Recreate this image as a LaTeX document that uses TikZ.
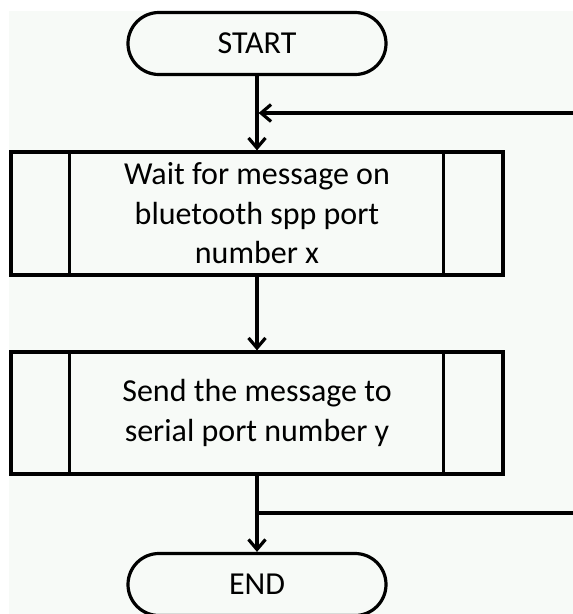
\documentclass[tikz,border=0pt]{standalone}
\usepackage{fontspec}
\setmainfont{Carlito}
\usetikzlibrary{arrows.meta}
\definecolor{bgc}{RGB}{247,250,247}
\begin{document}
\begin{tikzpicture}[x=1pt,y=-1pt,
  every node/.style={font=\fontsize{32}{39.5}\selectfont, text=black},
  term/.style={draw=black, line width=3.2pt, rounded corners=31pt, minimum width=258pt, minimum height=62pt, inner sep=0pt, fill=bgc},
  proc/.style={draw=black, line width=3.2pt, minimum width=492pt, inner sep=0pt, align=center, fill=bgc},
  conn/.style={line width=3.2pt, draw=black},
  arr/.style={conn, -{Straight Barb[length=10pt,width=17pt,line width=3.2pt]}}
]
\useasboundingbox (0,0) rectangle (573,614);
\fill[white] (0,0) rectangle (573,614);
\fill[bgc] (9,11) rectangle (573,614);

\node[term] (start) at (257,43.5) {START};
\node[proc, minimum height=123pt] (b1) at (257,213.5) {Wait for message on\\bluetooth spp port\\number x};
\node[proc, minimum height=122pt] (b2) at (257,413) {Send the message to\\serial port number y};
\node[term] (end) at (257,584.5) {END};

\draw[conn] ([xshift=60pt]b1.north west) -- ([xshift=60pt]b1.south west);
\draw[conn] ([xshift=-61pt]b1.north east) -- ([xshift=-61pt]b1.south east);
\draw[conn] ([xshift=60pt]b2.north west) -- ([xshift=60pt]b2.south west);
\draw[conn] ([xshift=-61pt]b2.north east) -- ([xshift=-61pt]b2.south east);

\coordinate (loopin) at (257,113);
\coordinate (loopinR) at (575,113);
\coordinate (loopout) at (257,513);
\coordinate (loopoutR) at (575,513);

\draw[arr] (start.south) -- (b1.north);
\draw[arr] (loopinR) -- ([xshift=1.6pt]loopin);
\draw[arr] (b1.south) -- (b2.north);
\draw[arr] (b2.south) -- (end.north);
\draw[conn] (loopout) -- (loopoutR);
\end{tikzpicture}
\end{document}
